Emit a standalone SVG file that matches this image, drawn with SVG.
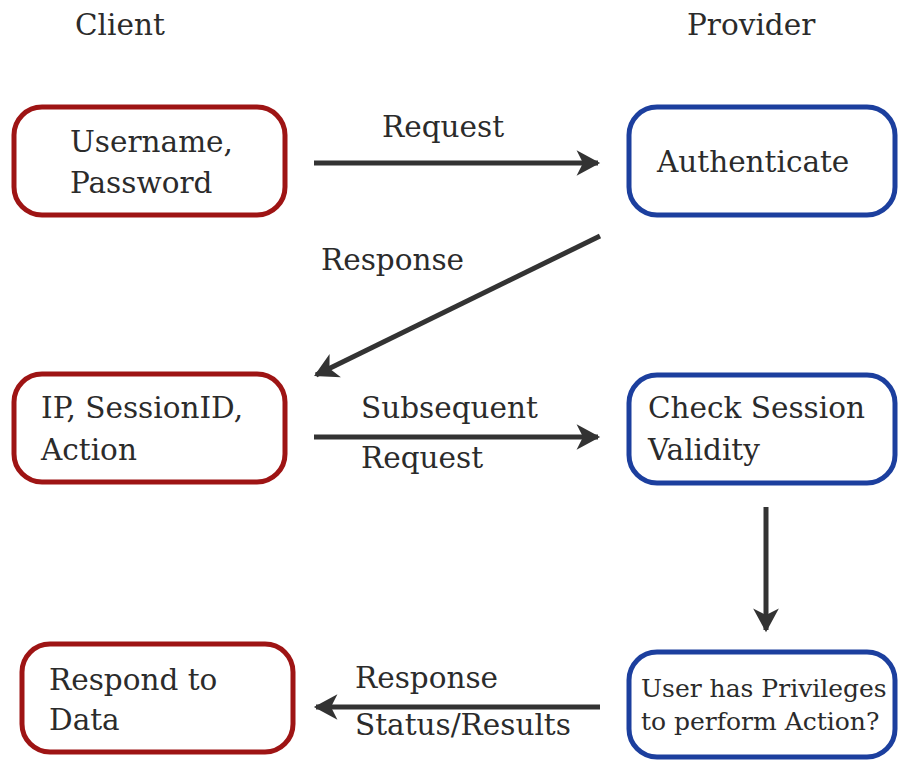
<svg xmlns="http://www.w3.org/2000/svg" width="898" height="760" viewBox="0 0 898 760">
<style>
text{font-family:"DejaVu Serif","Liberation Serif",serif;fill:#2b2b2b;font-size:29.5px}
.red{fill:#fff;stroke:#9e1414;stroke-width:5}
.blue{fill:#fff;stroke:#1c3f9e;stroke-width:5}
.conn{stroke:#333;stroke-width:5;fill:none;marker-end:url(#ah)}
.sm{font-size:25px}
</style>
<defs>
<marker id="ah" markerUnits="userSpaceOnUse" markerWidth="30" markerHeight="30" viewBox="-22 -14 26 28" refX="0" refY="0" orient="auto">
<path d="M-20,-12 L2,0 L-20,12 L-14,0 Z" fill="#333"/>
</marker>
</defs>
<text x="75" y="35">Client</text>
<text x="687" y="35">Provider</text>
<g id="n1"><rect class="red" x="14" y="107" width="271" height="108" rx="28"/><text x="70" y="152">Username,</text><text x="70" y="193">Password</text></g>
<g id="n2"><rect class="blue" x="629" y="107" width="266" height="108" rx="28"/><text x="657" y="172">Authenticate</text></g>
<g id="n3"><rect class="red" x="14" y="374" width="271" height="108" rx="28"/><text x="41" y="418">IP, SessionID,</text><text x="41" y="460">Action</text></g>
<g id="n4"><rect class="blue" x="629" y="375" width="266" height="108" rx="28"/><text x="648" y="418">Check Session</text><text x="648" y="460">Validity</text></g>
<g id="n5"><rect class="red" x="22" y="644" width="271" height="108" rx="28"/><text x="49" y="690">Respond to</text><text x="49" y="730">Data</text></g>
<g id="n6"><rect class="blue" x="629" y="652" width="266" height="105" rx="28"/><text class="sm" x="641" y="697">User has Privileges</text><text class="sm" x="641" y="730">to perform Action?</text></g>
<g id="connectors">
<line class="conn" x1="314" y1="163" x2="598" y2="163"/>
<line class="conn" x1="600" y1="236" x2="316" y2="375"/>
<line class="conn" x1="314" y1="437" x2="598" y2="437"/>
<line class="conn" x1="766" y1="507" x2="766" y2="630"/>
<line class="conn" x1="600" y1="707" x2="316" y2="707"/>
</g>
<text x="382" y="137">Request</text>
<text x="321" y="270">Response</text>
<text x="361" y="418">Subsequent</text>
<text x="361" y="468">Request</text>
<text x="355" y="688">Response</text>
<text x="355" y="735">Status/Results</text>
</svg>
